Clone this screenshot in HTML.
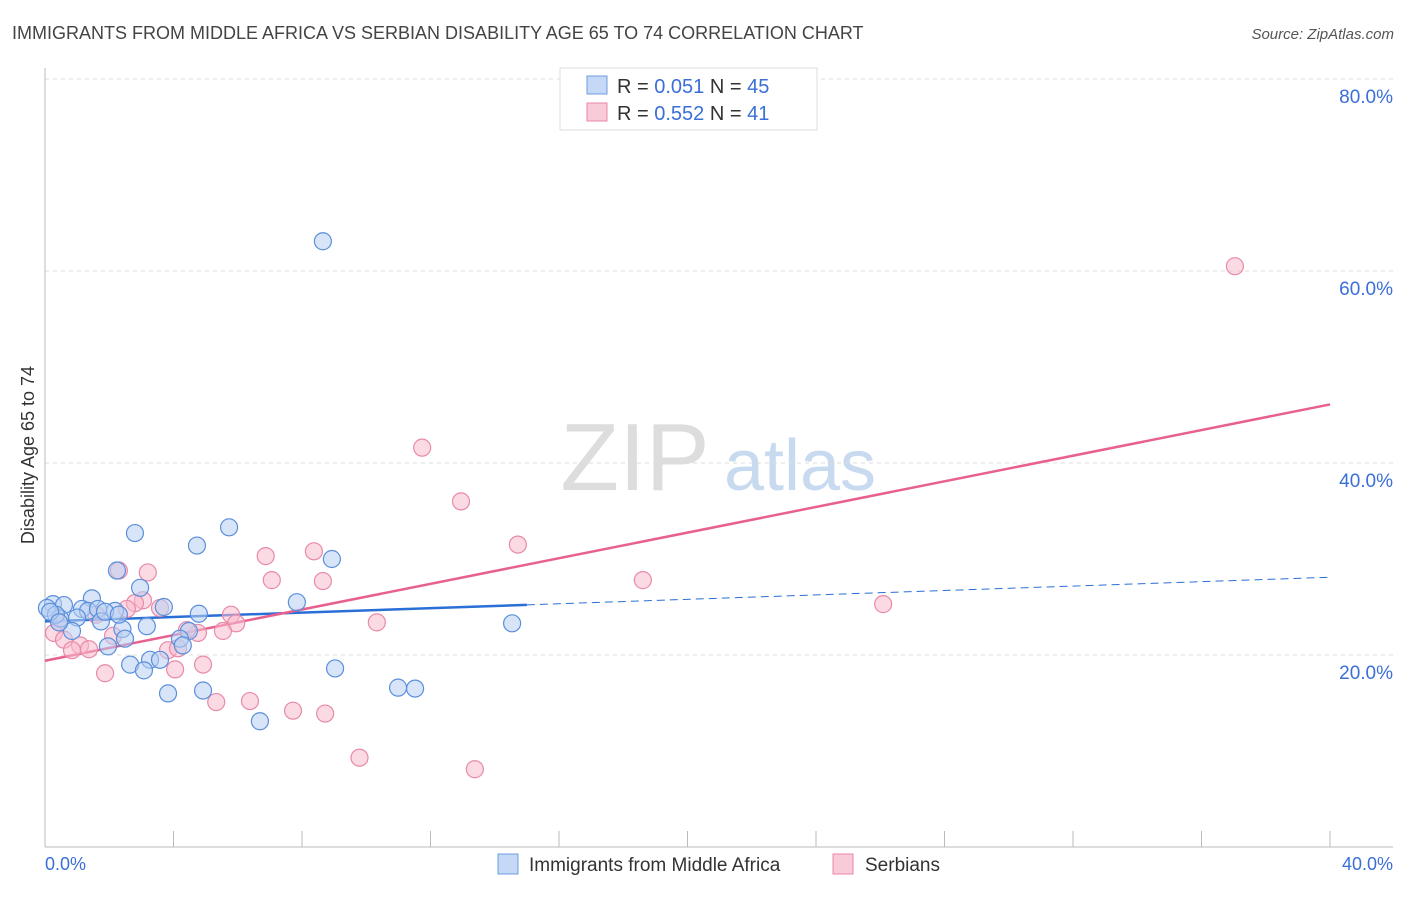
<!DOCTYPE html>
<html><head><meta charset="utf-8"><style>
body{margin:0;background:#fff;font-family:"Liberation Sans",sans-serif;}
svg text{font-family:"Liberation Sans",sans-serif;}
</style></head><body>
<svg width="1406" height="892">
<text x="12" y="39" font-size="18" fill="#444">IMMIGRANTS FROM MIDDLE AFRICA VS SERBIAN DISABILITY AGE 65 TO 74 CORRELATION CHART</text>
<text x="1394" y="39" font-size="15" fill="#555" font-style="italic" text-anchor="end">Source: ZipAtlas.com</text>
<g><text x="635" y="490" font-size="96" fill="#ddd" font-family="Liberation Serif" text-anchor="middle">ZIP</text><text x="800" y="490" font-size="72" fill="#c8daf0" text-anchor="middle">atlas</text></g>
<g id="grid"></g><g id="axes"></g><g id="lines"></g><g id="pts"></g>
<text transform="translate(34,455) rotate(-90)" font-size="18" fill="#333" text-anchor="middle">Disability Age 65 to 74</text>
<text x="45" y="870" font-size="18" fill="#3a6fd8">0.0%</text>
<text x="1393" y="870" font-size="18" fill="#3a6fd8" text-anchor="end">40.0%</text>
<g>
<rect x="560" y="68" width="257" height="62" fill="#fff" stroke="#ddd"/>
<rect x="587" y="76" width="20" height="18" fill="#c5d8f5" stroke="#6c9ce0"/>
<rect x="587" y="103" width="20" height="18" fill="#f9cad8" stroke="#e88aa8"/>
<text x="617" y="93" font-size="20" fill="#333">R = <tspan fill="#3a6fd8">0.051</tspan>   N = <tspan fill="#3a6fd8">45</tspan></text>
<text x="617" y="120" font-size="20" fill="#333">R = <tspan fill="#3a6fd8">0.552</tspan>   N = <tspan fill="#3a6fd8"> 41</tspan></text>
</g>
<g>
<rect x="498" y="854" width="20" height="20" fill="#c5d8f5" stroke="#6c9ce0"/>
<text x="529" y="871" font-size="19" fill="#333">Immigrants from Middle Africa</text>
<rect x="833" y="854" width="20" height="20" fill="#f9cad8" stroke="#e88aa8"/>
<text x="865" y="871" font-size="19" fill="#333">Serbians</text>
</g>
</svg>
<script>
const yTicks=[20,40,60,80];
const xTicks=[0,4,8,12,16,20,24,28,32,36,40];
const blueX=[8.65,2.80,5.73,4.73,8.93,2.96,2.24,1.46,0.25,0.59,0.06,1.15,1.34,1.65,2.18,3.70,4.79,7.84,0.47,1.00,1.74,3.17,0.84,2.41,4.48,2.49,4.20,1.96,4.29,14.54,2.65,3.27,3.58,3.08,9.03,3.83,4.92,10.99,11.52,6.69,0.34,0.16,1.87,0.44,2.3];
const blueY=[63.1,32.7,33.3,31.4,30.0,27.0,28.8,25.9,25.3,25.2,24.9,24.8,24.6,24.8,24.6,25.0,24.3,25.5,23.8,23.9,23.5,23.0,22.5,22.7,22.5,21.7,21.7,20.9,21.0,23.3,19.0,19.5,19.5,18.4,18.6,16.0,16.3,16.6,16.5,13.1,24.2,24.5,24.5,23.4,24.2];
const pinkX=[37.04,11.74,12.95,14.72,8.37,6.87,18.61,7.06,8.65,3.20,2.30,3.05,2.80,3.58,2.55,26.09,5.79,1.59,5.95,10.33,0.44,5.54,4.76,4.42,0.28,0.59,2.12,1.09,0.84,1.37,3.83,4.14,4.92,4.05,1.87,5.33,6.38,7.72,8.72,9.79,13.38];
const pinkY=[60.5,41.6,36.0,31.5,30.8,30.3,27.8,27.8,27.7,28.6,28.8,25.7,25.4,24.9,24.8,25.3,24.2,24.2,23.3,23.4,23.4,22.5,22.3,22.6,22.3,21.6,22.0,21.0,20.5,20.6,20.5,20.7,19.0,18.5,18.1,15.1,15.2,14.2,13.9,9.3,8.1];
const blueTrend=[23.5,28.1];
const blueSolidEnd=15;
const pinkTrend=[19.4,46.1];
const NS='http://www.w3.org/2000/svg';
const X=v=>45+v/40*1285, Y=v=>847-v/20*192;
function mk(t,a,p){const e=document.createElementNS(NS,t);for(const k in a)e.setAttribute(k,a[k]);p.appendChild(e);return e;}
const grid=document.getElementById('grid'),axes=document.getElementById('axes'),lines=document.getElementById('lines'),pts=document.getElementById('pts');
yTicks.forEach(v=>{
const l=mk('line',{x1:45,x2:1393,y1:Y(v),y2:Y(v),stroke:'#ddd','stroke-dasharray':'4,4'},grid);


const t=mk('text',{x:1393,y:Y(v)+24,'font-size':19,fill:'#3a6fd8','text-anchor':'end'},grid);t.textContent=v.toFixed(1)+'%';


});
const ax=mk('line',{x1:45,x2:45,y1:68,y2:847,stroke:'#bbb'},axes);


const bx=mk('line',{x1:45,x2:1393,y1:847,y2:847,stroke:'#bbb'},axes);


xTicks.forEach(v=>{const t=mk('line',{x1:X(v),x2:X(v),y1:831,y2:847,stroke:'#bbb'},axes);

});
function dot(x,y,f,s,n){const c=mk('circle',{cx:X(x),cy:Y(y),r:8.5,fill:f,'fill-opacity':0.55,stroke:s,'stroke-width':1.2},pts);

}
pinkX.forEach((x,i)=>dot(x,pinkY[i],'#f7bccd','#e88aa8','serbians-point'));
blueX.forEach((x,i)=>dot(x,blueY[i],'#b8d0f3','#5b8fdc','middle-africa-point'));
const bt=v=>blueTrend[0]+(blueTrend[1]-blueTrend[0])*v/40;
const b1=mk('line',{x1:X(0),y1:Y(bt(0)),x2:X(blueSolidEnd),y2:Y(bt(blueSolidEnd)),stroke:'#2a6fd6','stroke-width':2.5},lines);


const b2=mk('line',{x1:X(blueSolidEnd),y1:Y(bt(blueSolidEnd)),x2:X(40),y2:Y(bt(40)),stroke:'#2a6fd6','stroke-width':1,'stroke-dasharray':'8,5'},lines);


const p1=mk('line',{x1:X(0),y1:Y(pinkTrend[0]),x2:X(40),y2:Y(pinkTrend[1]),stroke:'#e8608e','stroke-width':2.5},lines);


</script>
</body></html>
